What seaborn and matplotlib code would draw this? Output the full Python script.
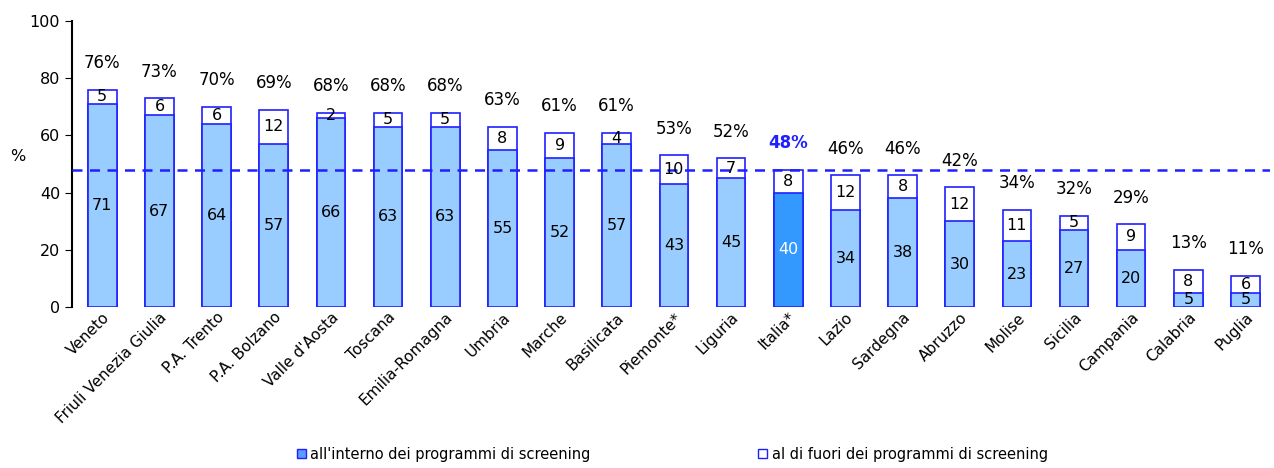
import numpy as np
import pandas as pd
import seaborn as sns
import matplotlib.pyplot as plt
from matplotlib.patches import Patch

# dati
regioni = ['Veneto', 'Friuli Venezia Giulia', 'P.A. Trento', 'P.A. Bolzano', "Valle d'Aosta",
           'Toscana', 'Emilia-Romagna', 'Umbria', 'Marche', 'Basilicata', 'Piemonte*',
           'Liguria', 'Italia*', 'Lazio', 'Sardegna', 'Abruzzo', 'Molise', 'Sicilia',
           'Campania', 'Calabria', 'Puglia']
interno = [71, 67, 64, 57, 66, 63, 63, 55, 52, 57, 43, 45, 40, 34, 38, 30, 23, 27, 20, 5, 5]
esterno = [5, 6, 6, 12, 2, 5, 5, 8, 9, 4, 10, 7, 8, 12, 8, 12, 11, 5, 9, 8, 6]
totale = [76, 73, 70, 69, 68, 68, 68, 63, 61, 61, 53, 52, 48, 46, 46, 42, 34, 32, 29, 13, 11]
media_italia = 48

df = pd.DataFrame({'regione': regioni, 'interno': interno, 'esterno': esterno, 'totale': totale})
df['sopra'] = df.interno + df.esterno

sns.set_style('white')
plt.rcParams['font.family'] = ['DejaVu Sans']
for k in ['text.color', 'axes.labelcolor', 'xtick.color', 'ytick.color']:
    plt.rcParams[k] = 'black'

blu = '#2020FF'
azzurro = '#99CCFF'
fig = plt.figure(figsize=(12.74, 4.68), dpi=100)
ax = fig.add_axes([0.0565, 0.344, 0.94, 0.611])

# barre impilate: prima il totale (bianco), poi la parte interna
sns.barplot(data=df, x='regione', y='sopra', color='white', edgecolor=blu, saturation=1,
            linewidth=1.2, width=0.5, ax=ax)
colori = {r: azzurro for r in regioni}
colori['Italia*'] = '#3399FF'
sns.barplot(data=df, x='regione', y='interno', hue='regione', palette=colori, legend=False,
            saturation=1, edgecolor=blu, linewidth=1.2, width=0.5, ax=ax)

ax.axhline(media_italia, color=blu, ls=(0, (4, 3)), lw=1.8, zorder=5)

for i, r in df.iterrows():
    col_in = 'white' if r.regione == 'Italia*' else 'black'
    ax.text(i, r.interno / 2, str(r.interno), ha='center', va='center', fontsize=11.5, color=col_in, zorder=6)
    ax.text(i, r.interno + r.esterno / 2, str(r.esterno), ha='center', va='center', fontsize=11.5, zorder=6)
    if r.regione == 'Italia*':
        ax.annotate(f'{r.totale}%', (i, r.sopra), xytext=(0, 19), textcoords='offset points',
                    ha='center', va='center', fontsize=12, color=blu, fontweight='bold')
    else:
        ax.annotate(f'{r.totale}%', (i, r.sopra), xytext=(0, 19), textcoords='offset points',
                    ha='center', va='center', fontsize=12)

ax.set_ylim(0, 100)
ax.set_xlim(-0.53, 20.42)
ax.set_yticks(range(0, 101, 20))
ax.tick_params(axis='y', direction='out', length=5, left=True, labelsize=11.5)
ax.tick_params(axis='x', length=0, labelsize=11, pad=2)
plt.setp(ax.get_xticklabels(), rotation=45, ha='right', rotation_mode='anchor')
ax.set_xlabel('')
ax.set_ylabel('%', rotation=0, fontsize=11.5)
ax.yaxis.set_label_coords(-0.045, 0.5)
for s in ['top', 'right', 'bottom']:
    ax.spines[s].set_visible(False)
ax.spines['left'].set_color('black')
ax.spines['left'].set_linewidth(1.5)

handles = [Patch(facecolor='#5C9CFF', edgecolor=blu, label="all'interno dei programmi di screening"),
           Patch(facecolor='white', edgecolor=blu, label='al di fuori dei programmi di screening')]
fig.legend(handles=handles, loc='lower left', bbox_to_anchor=(0.223, -0.015), ncol=2, frameon=False,
           fontsize=10.5, handlelength=0.6, handleheight=0.6, handletextpad=0.3, columnspacing=11.5)

fig.savefig('out.png', dpi=100)
